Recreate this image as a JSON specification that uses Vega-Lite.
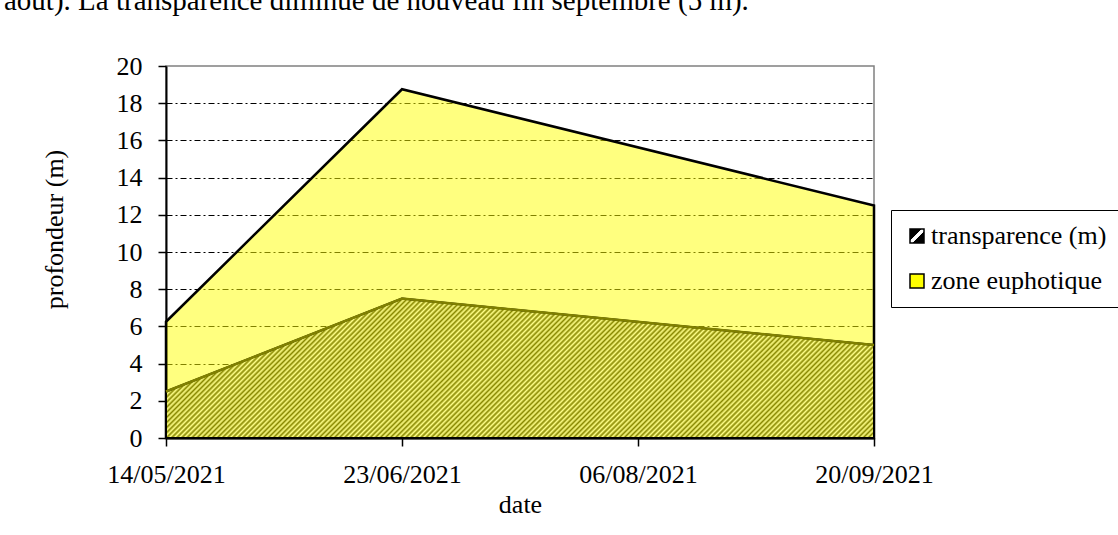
{
  "$schema": "https://vega.github.io/schema/vega-lite/v6.json",
  "width": 708,
  "height": 372,
  "autosize": {"type": "none"},
  "padding": {"left": 166, "top": 66, "right": 244, "bottom": 97},
  "background": "#ffffff",
  "title": {
    "text": "août). La transparence diminue de nouveau fin septembre (5 m).",
    "anchor": "start",
    "frame": "group",
    "font": "Liberation Serif",
    "fontSize": 29,
    "fontWeight": "normal",
    "color": "#000000",
    "baseline": "alphabetic",
    "offset": 14,
    "dx": -162
  },
  "data": {
    "values": [
      {"date": "14/05/2021", "transparence": 2.5, "euphotique": 6.25},
      {"date": "23/06/2021", "transparence": 7.5, "euphotique": 18.75},
      {"date": "20/09/2021", "transparence": 5.0, "euphotique": 12.5}
    ]
  },
  "encoding": {
    "x": {
      "field": "date",
      "type": "ordinal",
      "sort": null,
      "title": "date",
      "scale": {"type": "point", "domain": ["14/05/2021", "23/06/2021", "06/08/2021", "20/09/2021"], "padding": 0}
    }
  },
  "layer": [
    {
      "mark": {"type": "area", "fillOpacity": 0.5, "stroke": "#000000", "strokeWidth": 2.5},
      "encoding": {
        "y": {
          "field": "euphotique",
          "type": "quantitative",
          "title": "profondeur (m)",
          "scale": {"domain": [0, 20], "nice": false},
          "axis": {"values": [0, 2, 4, 6, 8, 10, 12, 14, 16, 18, 20], "labelOverlap": false, "gridOpacity": {"condition": {"test": "datum.value === 0 || datum.value === 20", "value": 0}, "value": 1}}
        },
        "color": {
          "datum": "zone euphotique",
          "type": "nominal",
          "scale": {
            "domain": ["transparence (m)", "zone euphotique"],
            "range": [
              {"expr": "{gradient: 'linear', x1: 0, y1: 0, x2: 1, y2: 1, stops: [{offset: 0, color: '#000000'}, {offset: 0.4, color: '#000000'}, {offset: 0.43, color: '#ffffff'}, {offset: 0.57, color: '#ffffff'}, {offset: 0.6, color: '#000000'}, {offset: 1, color: '#000000'}]}"},
              "#ffff00"
            ]
          },
          "legend": {
            "title": null,
            "orient": "none",
            "legendX": 725,
            "legendY": 144,
            "strokeColor": "#000000",
            "fillColor": "#ffffff",
            "padding": 13,
            "rowPadding": 19,
            "labelOffset": 1,
            "labelLimit": 0,
            "labelFont": "Liberation Serif",
            "labelFontSize": 26,
            "labelColor": "#000000",
            "symbolType": "square",
            "symbolSize": 196,
            "symbolStrokeWidth": 1.5,
            "symbolStrokeColor": "#000000",
            "symbolOpacity": 1
          }
        }
      }
    },
    {
      "mark": {
        "type": "area",
        "stroke": "#000000",
        "strokeWidth": 2,
        "fill": {
          "gradient": "linear",
          "x1": 0,
          "y1": 0,
          "x2": 1.1523,
          "y2": 0.22704,
          "stops": [
{"offset":0.000,"color":"#ff8"},{"offset":0.003,"color":"#880"},{"offset":0.006,"color":"#ff8"},{"offset":0.009,"color":"#880"},{"offset":0.012,"color":"#ff8"},{"offset":0.015,"color":"#880"},{"offset":0.018,"color":"#ff8"},{"offset":0.021,"color":"#880"},{"offset":0.024,"color":"#ff8"},{"offset":0.027,"color":"#880"},
{"offset":0.030,"color":"#ff8"},{"offset":0.033,"color":"#880"},{"offset":0.036,"color":"#ff8"},{"offset":0.039,"color":"#880"},{"offset":0.042,"color":"#ff8"},{"offset":0.045,"color":"#880"},{"offset":0.048,"color":"#ff8"},{"offset":0.051,"color":"#880"},{"offset":0.054,"color":"#ff8"},{"offset":0.057,"color":"#880"},
{"offset":0.060,"color":"#ff8"},{"offset":0.063,"color":"#880"},{"offset":0.066,"color":"#ff8"},{"offset":0.069,"color":"#880"},{"offset":0.072,"color":"#ff8"},{"offset":0.075,"color":"#880"},{"offset":0.078,"color":"#ff8"},{"offset":0.081,"color":"#880"},{"offset":0.084,"color":"#ff8"},{"offset":0.087,"color":"#880"},
{"offset":0.090,"color":"#ff8"},{"offset":0.093,"color":"#880"},{"offset":0.096,"color":"#ff8"},{"offset":0.099,"color":"#880"},{"offset":0.102,"color":"#ff8"},{"offset":0.105,"color":"#880"},{"offset":0.108,"color":"#ff8"},{"offset":0.111,"color":"#880"},{"offset":0.114,"color":"#ff8"},{"offset":0.117,"color":"#880"},
{"offset":0.120,"color":"#ff8"},{"offset":0.123,"color":"#880"},{"offset":0.126,"color":"#ff8"},{"offset":0.129,"color":"#880"},{"offset":0.132,"color":"#ff8"},{"offset":0.135,"color":"#880"},{"offset":0.138,"color":"#ff8"},{"offset":0.141,"color":"#880"},{"offset":0.144,"color":"#ff8"},{"offset":0.147,"color":"#880"},
{"offset":0.150,"color":"#ff8"},{"offset":0.153,"color":"#880"},{"offset":0.156,"color":"#ff8"},{"offset":0.159,"color":"#880"},{"offset":0.162,"color":"#ff8"},{"offset":0.165,"color":"#880"},{"offset":0.168,"color":"#ff8"},{"offset":0.171,"color":"#880"},{"offset":0.174,"color":"#ff8"},{"offset":0.177,"color":"#880"},
{"offset":0.180,"color":"#ff8"},{"offset":0.183,"color":"#880"},{"offset":0.186,"color":"#ff8"},{"offset":0.189,"color":"#880"},{"offset":0.192,"color":"#ff8"},{"offset":0.195,"color":"#880"},{"offset":0.198,"color":"#ff8"},{"offset":0.201,"color":"#880"},{"offset":0.204,"color":"#ff8"},{"offset":0.207,"color":"#880"},
{"offset":0.210,"color":"#ff8"},{"offset":0.213,"color":"#880"},{"offset":0.216,"color":"#ff8"},{"offset":0.219,"color":"#880"},{"offset":0.222,"color":"#ff8"},{"offset":0.225,"color":"#880"},{"offset":0.228,"color":"#ff8"},{"offset":0.231,"color":"#880"},{"offset":0.234,"color":"#ff8"},{"offset":0.237,"color":"#880"},
{"offset":0.240,"color":"#ff8"},{"offset":0.243,"color":"#880"},{"offset":0.246,"color":"#ff8"},{"offset":0.249,"color":"#880"},{"offset":0.252,"color":"#ff8"},{"offset":0.255,"color":"#880"},{"offset":0.258,"color":"#ff8"},{"offset":0.261,"color":"#880"},{"offset":0.264,"color":"#ff8"},{"offset":0.267,"color":"#880"},
{"offset":0.270,"color":"#ff8"},{"offset":0.273,"color":"#880"},{"offset":0.276,"color":"#ff8"},{"offset":0.279,"color":"#880"},{"offset":0.282,"color":"#ff8"},{"offset":0.285,"color":"#880"},{"offset":0.288,"color":"#ff8"},{"offset":0.291,"color":"#880"},{"offset":0.294,"color":"#ff8"},{"offset":0.297,"color":"#880"},
{"offset":0.300,"color":"#ff8"},{"offset":0.303,"color":"#880"},{"offset":0.306,"color":"#ff8"},{"offset":0.309,"color":"#880"},{"offset":0.312,"color":"#ff8"},{"offset":0.315,"color":"#880"},{"offset":0.318,"color":"#ff8"},{"offset":0.321,"color":"#880"},{"offset":0.324,"color":"#ff8"},{"offset":0.327,"color":"#880"},
{"offset":0.330,"color":"#ff8"},{"offset":0.333,"color":"#880"},{"offset":0.336,"color":"#ff8"},{"offset":0.339,"color":"#880"},{"offset":0.342,"color":"#ff8"},{"offset":0.345,"color":"#880"},{"offset":0.348,"color":"#ff8"},{"offset":0.351,"color":"#880"},{"offset":0.354,"color":"#ff8"},{"offset":0.357,"color":"#880"},
{"offset":0.360,"color":"#ff8"},{"offset":0.363,"color":"#880"},{"offset":0.366,"color":"#ff8"},{"offset":0.369,"color":"#880"},{"offset":0.372,"color":"#ff8"},{"offset":0.375,"color":"#880"},{"offset":0.378,"color":"#ff8"},{"offset":0.381,"color":"#880"},{"offset":0.384,"color":"#ff8"},{"offset":0.387,"color":"#880"},
{"offset":0.390,"color":"#ff8"},{"offset":0.393,"color":"#880"},{"offset":0.396,"color":"#ff8"},{"offset":0.399,"color":"#880"},{"offset":0.402,"color":"#ff8"},{"offset":0.405,"color":"#880"},{"offset":0.408,"color":"#ff8"},{"offset":0.411,"color":"#880"},{"offset":0.414,"color":"#ff8"},{"offset":0.417,"color":"#880"},
{"offset":0.420,"color":"#ff8"},{"offset":0.423,"color":"#880"},{"offset":0.426,"color":"#ff8"},{"offset":0.429,"color":"#880"},{"offset":0.432,"color":"#ff8"},{"offset":0.435,"color":"#880"},{"offset":0.438,"color":"#ff8"},{"offset":0.441,"color":"#880"},{"offset":0.444,"color":"#ff8"},{"offset":0.447,"color":"#880"},
{"offset":0.450,"color":"#ff8"},{"offset":0.453,"color":"#880"},{"offset":0.456,"color":"#ff8"},{"offset":0.459,"color":"#880"},{"offset":0.462,"color":"#ff8"},{"offset":0.465,"color":"#880"},{"offset":0.468,"color":"#ff8"},{"offset":0.471,"color":"#880"},{"offset":0.474,"color":"#ff8"},{"offset":0.477,"color":"#880"},
{"offset":0.480,"color":"#ff8"},{"offset":0.483,"color":"#880"},{"offset":0.486,"color":"#ff8"},{"offset":0.489,"color":"#880"},{"offset":0.492,"color":"#ff8"},{"offset":0.495,"color":"#880"},{"offset":0.498,"color":"#ff8"},{"offset":0.501,"color":"#880"},{"offset":0.504,"color":"#ff8"},{"offset":0.507,"color":"#880"},
{"offset":0.510,"color":"#ff8"},{"offset":0.513,"color":"#880"},{"offset":0.516,"color":"#ff8"},{"offset":0.519,"color":"#880"},{"offset":0.522,"color":"#ff8"},{"offset":0.525,"color":"#880"},{"offset":0.528,"color":"#ff8"},{"offset":0.531,"color":"#880"},{"offset":0.534,"color":"#ff8"},{"offset":0.537,"color":"#880"},
{"offset":0.540,"color":"#ff8"},{"offset":0.543,"color":"#880"},{"offset":0.546,"color":"#ff8"},{"offset":0.549,"color":"#880"},{"offset":0.552,"color":"#ff8"},{"offset":0.555,"color":"#880"},{"offset":0.558,"color":"#ff8"},{"offset":0.561,"color":"#880"},{"offset":0.564,"color":"#ff8"},{"offset":0.567,"color":"#880"},
{"offset":0.570,"color":"#ff8"},{"offset":0.573,"color":"#880"},{"offset":0.576,"color":"#ff8"},{"offset":0.579,"color":"#880"},{"offset":0.582,"color":"#ff8"},{"offset":0.585,"color":"#880"},{"offset":0.588,"color":"#ff8"},{"offset":0.591,"color":"#880"},{"offset":0.594,"color":"#ff8"},{"offset":0.597,"color":"#880"},
{"offset":0.600,"color":"#ff8"},{"offset":0.603,"color":"#880"},{"offset":0.606,"color":"#ff8"},{"offset":0.609,"color":"#880"},{"offset":0.612,"color":"#ff8"},{"offset":0.615,"color":"#880"},{"offset":0.618,"color":"#ff8"},{"offset":0.621,"color":"#880"},{"offset":0.624,"color":"#ff8"},{"offset":0.627,"color":"#880"},
{"offset":0.630,"color":"#ff8"},{"offset":0.633,"color":"#880"},{"offset":0.636,"color":"#ff8"},{"offset":0.639,"color":"#880"},{"offset":0.642,"color":"#ff8"},{"offset":0.645,"color":"#880"},{"offset":0.648,"color":"#ff8"},{"offset":0.651,"color":"#880"},{"offset":0.654,"color":"#ff8"},{"offset":0.657,"color":"#880"},
{"offset":0.660,"color":"#ff8"},{"offset":0.663,"color":"#880"},{"offset":0.666,"color":"#ff8"},{"offset":0.669,"color":"#880"},{"offset":0.672,"color":"#ff8"},{"offset":0.675,"color":"#880"},{"offset":0.678,"color":"#ff8"},{"offset":0.681,"color":"#880"},{"offset":0.684,"color":"#ff8"},{"offset":0.687,"color":"#880"},
{"offset":0.690,"color":"#ff8"},{"offset":0.693,"color":"#880"},{"offset":0.696,"color":"#ff8"},{"offset":0.699,"color":"#880"},{"offset":0.702,"color":"#ff8"},{"offset":0.705,"color":"#880"},{"offset":0.708,"color":"#ff8"},{"offset":0.711,"color":"#880"},{"offset":0.714,"color":"#ff8"},{"offset":0.717,"color":"#880"},
{"offset":0.720,"color":"#ff8"},{"offset":0.723,"color":"#880"},{"offset":0.726,"color":"#ff8"},{"offset":0.729,"color":"#880"},{"offset":0.732,"color":"#ff8"},{"offset":0.735,"color":"#880"},{"offset":0.738,"color":"#ff8"},{"offset":0.741,"color":"#880"},{"offset":0.744,"color":"#ff8"},{"offset":0.747,"color":"#880"},
{"offset":0.750,"color":"#ff8"},{"offset":0.753,"color":"#880"},{"offset":0.756,"color":"#ff8"},{"offset":0.759,"color":"#880"},{"offset":0.762,"color":"#ff8"},{"offset":0.765,"color":"#880"},{"offset":0.768,"color":"#ff8"},{"offset":0.771,"color":"#880"},{"offset":0.774,"color":"#ff8"},{"offset":0.777,"color":"#880"},
{"offset":0.780,"color":"#ff8"},{"offset":0.783,"color":"#880"},{"offset":0.786,"color":"#ff8"},{"offset":0.789,"color":"#880"},{"offset":0.792,"color":"#ff8"},{"offset":0.795,"color":"#880"},{"offset":0.798,"color":"#ff8"},{"offset":0.801,"color":"#880"},{"offset":0.804,"color":"#ff8"},{"offset":0.807,"color":"#880"},
{"offset":0.810,"color":"#ff8"},{"offset":0.813,"color":"#880"},{"offset":0.816,"color":"#ff8"},{"offset":0.819,"color":"#880"},{"offset":0.822,"color":"#ff8"},{"offset":0.825,"color":"#880"},{"offset":0.828,"color":"#ff8"},{"offset":0.831,"color":"#880"},{"offset":0.834,"color":"#ff8"},{"offset":0.837,"color":"#880"},
{"offset":0.840,"color":"#ff8"},{"offset":0.843,"color":"#880"},{"offset":0.846,"color":"#ff8"},{"offset":0.849,"color":"#880"},{"offset":0.852,"color":"#ff8"},{"offset":0.855,"color":"#880"},{"offset":0.858,"color":"#ff8"},{"offset":0.861,"color":"#880"},{"offset":0.864,"color":"#ff8"},{"offset":0.867,"color":"#880"},
{"offset":0.870,"color":"#ff8"},{"offset":0.873,"color":"#880"},{"offset":0.876,"color":"#ff8"},{"offset":0.879,"color":"#880"},{"offset":0.882,"color":"#ff8"},{"offset":0.885,"color":"#880"},{"offset":0.888,"color":"#ff8"},{"offset":0.891,"color":"#880"},{"offset":0.894,"color":"#ff8"},{"offset":0.897,"color":"#880"},
{"offset":0.900,"color":"#ff8"},{"offset":0.903,"color":"#880"},{"offset":0.906,"color":"#ff8"},{"offset":0.909,"color":"#880"},{"offset":0.912,"color":"#ff8"},{"offset":0.915,"color":"#880"},{"offset":0.918,"color":"#ff8"},{"offset":0.921,"color":"#880"},{"offset":0.924,"color":"#ff8"},{"offset":0.927,"color":"#880"},
{"offset":0.930,"color":"#ff8"},{"offset":0.933,"color":"#880"},{"offset":0.936,"color":"#ff8"},{"offset":0.939,"color":"#880"},{"offset":0.942,"color":"#ff8"},{"offset":0.945,"color":"#880"},{"offset":0.948,"color":"#ff8"},{"offset":0.951,"color":"#880"},{"offset":0.954,"color":"#ff8"},{"offset":0.957,"color":"#880"},
{"offset":0.960,"color":"#ff8"},{"offset":0.963,"color":"#880"},{"offset":0.966,"color":"#ff8"},{"offset":0.969,"color":"#880"},{"offset":0.972,"color":"#ff8"},{"offset":0.975,"color":"#880"},{"offset":0.978,"color":"#ff8"},{"offset":0.981,"color":"#880"},{"offset":0.984,"color":"#ff8"},{"offset":0.987,"color":"#880"},
{"offset":0.990,"color":"#ff8"},{"offset":0.993,"color":"#880"},{"offset":0.996,"color":"#ff8"},{"offset":0.999,"color":"#880"},{"offset":1,"color":"#ff8"}
          ]
        }
      },
      "encoding": {
        "y": {
          "field": "transparence",
          "type": "quantitative",
          "title": "profondeur (m)",
          "scale": {"domain": [0, 20], "nice": false},
          "axis": {"values": [0, 2, 4, 6, 8, 10, 12, 14, 16, 18, 20], "labelOverlap": false, "gridOpacity": {"condition": {"test": "datum.value === 0 || datum.value === 20", "value": 0}, "value": 1}}
        }
      }
    },
    {
      "mark": {"type": "line", "color": "#808000", "strokeWidth": 2.5},
      "encoding": {
        "y": {
          "field": "transparence",
          "type": "quantitative",
          "title": "profondeur (m)",
          "scale": {"domain": [0, 20], "nice": false},
          "axis": {"values": [0, 2, 4, 6, 8, 10, 12, 14, 16, 18, 20], "labelOverlap": false, "gridOpacity": {"condition": {"test": "datum.value === 0 || datum.value === 20", "value": 0}, "value": 1}}
        }
      }
    }
  ],
  "config": {
    "font": "Liberation Serif",
    "view": {"stroke": "#808080", "strokeWidth": 1.5},
    "axis": {
      "zindex": 0,
      "labelFont": "Liberation Serif",
      "labelFontSize": 26,
      "labelColor": "#000000",
      "titleFont": "Liberation Serif",
      "titleFontSize": 26,
      "titleFontWeight": "normal",
      "titleColor": "#000000",
      "tickColor": "#000000",
      "tickSize": 8,
      "tickWidth": 1.5,
      "domainColor": "#000000",
      "domainWidth": 2
    },
    "axisY": {
      "grid": true,
      "gridColor": "#000000",
      "gridDash": [6, 3, 2, 3],
      "gridWidth": 1,
      "labelPadding": 16,
      "titleX": -104,
      "titleY": 163,
      "titleBaseline": "alphabetic",
      "titleAlign": "center"
    },
    "axisX": {
      "grid": false,
      "labelAngle": 0,
      "labelBaseline": "alphabetic",
      "labelPadding": 36,
      "titleX": 354,
      "titleY": 74,
      "titleBaseline": "alphabetic",
      "titleAlign": "center"
    }
  }
}
